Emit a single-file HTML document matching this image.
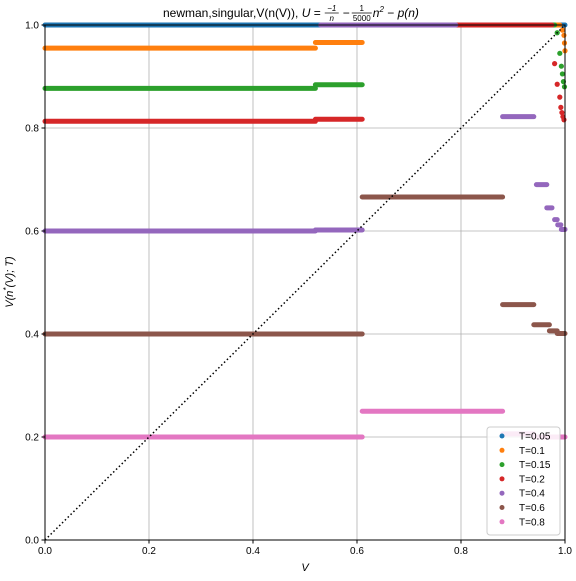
<!DOCTYPE html>
<html><head><meta charset="utf-8"><style>
body{margin:0;background:#fff;}
svg{font-family:"Liberation Sans","DejaVu Sans",sans-serif;}
</style></head><body>
<svg id="chart" width="576" height="576" viewBox="0 0 576 576" xmlns="http://www.w3.org/2000/svg">
<rect width="576" height="576" fill="#fff"/>
<g id="grid"></g>
<g id="marks"></g>
<rect x="45" y="25" width="520" height="515" fill="none" stroke="#000" stroke-width="1"/>
<g id="ticks"></g>
<g id="title">
<text id="t1" x="163" y="17" font-size="12">newman,singular,V(n(V)), <tspan font-style="italic">U</tspan> =</text>
<g id="tm" font-size="8" font-style="italic">
<text x="7" y="11" text-anchor="middle">−1</text>
<line x1="0" y1="13" x2="14" y2="13" stroke="#000" stroke-width="0.7"/>
<text x="7" y="21" text-anchor="middle">n</text>
<text x="18" y="17" font-size="12" font-style="normal">−</text>
<text x="37" y="11" text-anchor="middle" font-style="normal">1</text>
<line x1="27" y1="13" x2="47" y2="13" stroke="#000" stroke-width="0.7"/>
<text x="37" y="21" text-anchor="middle" font-style="normal">5000</text>
<text x="48" y="17" font-size="12">n<tspan font-size="8" dy="-5">2</tspan><tspan font-style="normal" dy="5"> − </tspan>p(n)</text>
</g>
</g>
<text x="305" y="571" text-anchor="middle" font-size="11" font-style="italic">V</text>
<text transform="translate(13,282) rotate(-90)" text-anchor="middle" font-size="11" font-style="italic">V(n<tspan font-size="8" dy="-4">*</tspan><tspan dy="4">(V); T)</tspan></text>
<g id="legend"></g>
</svg>
<script>
const ticks=[0,0.2,0.4,0.6,0.8,1.0];
const tickLabels=["0.0","0.2","0.4","0.6","0.8","1.0"];
const seriesNames=["T=0.05","T=0.1","T=0.15","T=0.2","T=0.4","T=0.6","T=0.8"];
const colors=["#1f77b4","#ff7f0e","#2ca02c","#d62728","#9467bd","#8c564b","#e377c2"];
// segments: [vStart, vEnd, value]
const segT005=[[0,1,1.0]];
const segT01=[[0,0.52,0.955],[0.52,0.61,0.966],[0.61,0.99,1.0]];
const segT015=[[0,0.52,0.877],[0.52,0.61,0.884],[0.61,0.98,1.0]];
const segT02=[[0,0.52,0.813],[0.52,0.61,0.817],[0.79,0.975,1.0]];
const segT04=[[0,0.52,0.6],[0.52,0.61,0.602],[0.53,0.79,1.0],[0.88,0.94,0.822],[0.945,0.965,0.69],[0.965,0.975,0.645],[0.98,0.985,0.622],[0.986,0.992,0.612],[0.993,1,0.603]];
const segT06=[[0,0.61,0.4],[0.61,0.88,0.666],[0.88,0.94,0.457],[0.94,0.97,0.418],[0.97,0.985,0.406],[0.985,1,0.401]];
const segT08=[[0,0.61,0.2],[0.61,0.88,0.25],[0.88,0.94,0.206],[0.94,1,0.2]];
// scattered points: [v, value]
const ptsT01=[[0.995,0.99],[0.998,0.98],[0.999,0.965],[1.0,0.95]];
const ptsT015=[[0.985,0.985],[0.99,0.945],[0.993,0.92],[0.995,0.905],[0.997,0.89],[0.999,0.88]];
const ptsT02=[[0.98,0.925],[0.985,0.885],[0.99,0.86],[0.992,0.84],[0.994,0.83],[0.996,0.822],[0.998,0.816]];
const segs=[segT005,segT01,segT015,segT02,segT04,segT06,segT08];
const pts=[[],ptsT01,ptsT015,ptsT02,[],[],[]];
const NS="http://www.w3.org/2000/svg";
const X0=45,X1=565,Y0=540,Y1=25;
const sx=v=>X0+v*(X1-X0), sy=v=>Y0-v*(Y0-Y1);
function mk(tag,attrs,parent){const e=document.createElementNS(NS,tag);for(const k in attrs)e.setAttribute(k,attrs[k]);parent.appendChild(e);return e;}
const grid=document.getElementById('grid'),tk=document.getElementById('ticks'),marks=document.getElementById('marks'),leg=document.getElementById('legend');
// position title math after the text
const t1=document.getElementById('t1');
let w=155;try{w=t1.getComputedTextLength();}catch(e){}
document.getElementById('tm').setAttribute('transform','translate('+(163+w+4)+',0)');
ticks.forEach((t,i)=>{
 if(t>0&&t<1){
  const gv=mk('line',{x1:sx(t),x2:sx(t),y1:Y1,y2:Y0,stroke:'#b0b0b0','stroke-width':0.8},grid);
  
  
  const gh=mk('line',{x1:X0,x2:X1,y1:sy(t),y2:sy(t),stroke:'#b0b0b0','stroke-width':0.8},grid);
  
  
 }
 mk('line',{x1:sx(t),x2:sx(t),y1:Y0,y2:Y0+3.5,stroke:'#000'},tk);
 const xl=mk('text',{x:sx(t),y:Y0+14,'text-anchor':'middle','font-size':10},tk);xl.textContent=tickLabels[i];
 
 
 mk('line',{x1:X0-3.5,x2:X0,y1:sy(t),y2:sy(t),stroke:'#000'},tk);
 const yl=mk('text',{x:X0-6,y:sy(t)+3.5,'text-anchor':'end','font-size':10},tk);yl.textContent=tickLabels[i];
 
 
});
segs.forEach((ss,si)=>{
 const g=mk('g',{},marks);
 
 
 ss.forEach(s=>{
  const l=mk('line',{x1:sx(s[0]),x2:sx(s[1]),y1:sy(s[2]),y2:sy(s[2]),stroke:colors[si],'stroke-width':5,'stroke-linecap':'round'},g);
  
  
 });
 pts[si].forEach(p=>{
  const c=mk('circle',{cx:sx(p[0]),cy:sy(p[1]),r:2.6,fill:colors[si]},g);
  
  
 });
});
const diag=mk('line',{x1:sx(0),y1:sy(0),x2:sx(1),y2:sy(1),stroke:'#000','stroke-width':1.5,'stroke-dasharray':'1.5,2.5'},marks);


const lb=mk('rect',{x:487,y:427,width:73,height:108,rx:3,fill:'#fff','fill-opacity':0.85,stroke:'#ccc'},leg);


seriesNames.forEach((n,i)=>{
 const y=436+i*14.3;
 const e=mk('g',{},leg);
 
 
 mk('circle',{cx:502,cy:y,r:2.5,fill:colors[i]},e);
 const t=mk('text',{x:519,y:y+3.5,'font-size':10},e);t.textContent=n;
});
</script>
</body></html>
